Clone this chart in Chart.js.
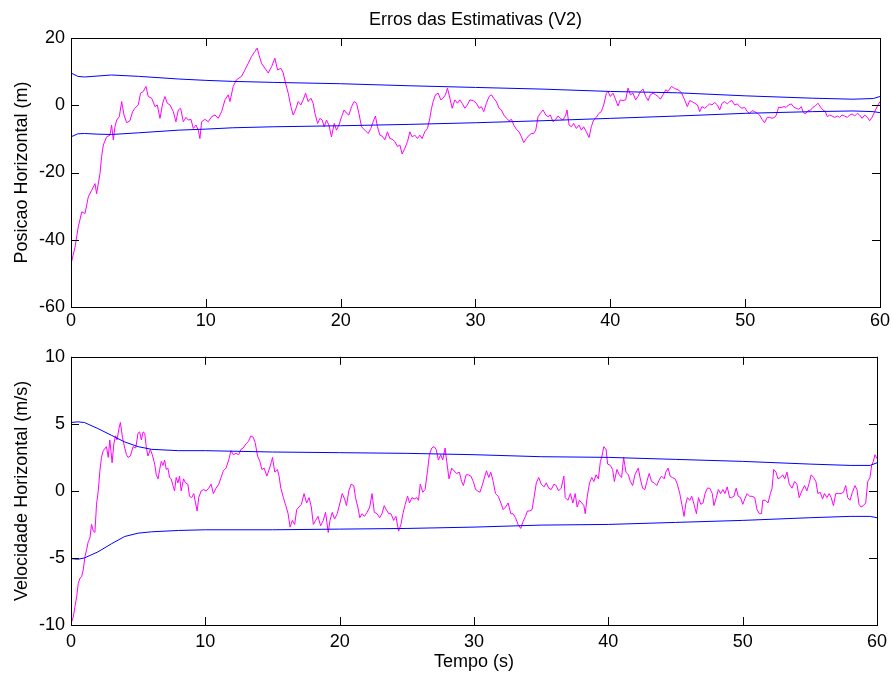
<!DOCTYPE html>
<html>
<head>
<meta charset="utf-8">
<title>Erros das Estimativas (V2)</title>
<script src="https://cdn.jsdelivr.net/npm/chart.js@4.4.1/dist/chart.umd.min.js"></script>
<style>
  body { margin: 0; background: #fff; }
  #wrap { position: relative; width: 893px; height: 680px; }
  canvas { position: absolute; left: 0; }
  #posCanvas { top: 0; }
  #velCanvas { top: 340px; }
</style>
</head>
<body>
<div id="wrap">
  <canvas id="posCanvas" width="893" height="340"></canvas>
  <canvas id="velCanvas" width="893" height="340"></canvas>
</div>
<script>
// time axis ticks (s)
const timeTicks = [0, 10, 20, 30, 40, 50, 60];

// position error (m)
const posTime = [0, 0.3, 0.54, 0.8, 1.04, 1.28, 1.53, 1.78, 1.9, 2.15, 2.27, 2.4, 2.64, 2.89, 3.01, 3.14, 3.26, 3.39, 3.58, 3.76, 3.93, 4.13, 4.37, 4.57, 4.74, 4.99, 5.16, 5.36, 5.56, 5.73, 5.98, 6.23, 6.4, 6.6, 6.8, 6.97, 7.14, 7.34, 7.59, 7.78, 7.96, 8.13, 8.33, 8.53, 8.7, 8.9, 9.07, 9.27, 9.44, 9.56, 9.69, 9.93, 10.18, 10.43, 10.68, 10.92, 11.17, 11.42, 11.66, 11.79, 12.03, 12.28, 12.65, 12.9, 13.15, 13.39, 13.64, 13.81, 13.94, 14.13, 14.38, 14.63, 14.88, 15.12, 15.32, 15.56, 15.74, 15.91, 16.11, 16.31, 16.48, 16.65, 16.85, 17.05, 17.22, 17.4, 17.59, 17.79, 17.96, 18.09, 18.29, 18.46, 18.63, 18.78, 18.95, 19.13, 19.32, 19.52, 19.69, 19.87, 20.07, 20.26, 20.44, 20.61, 20.81, 21.0, 21.18, 21.35, 21.55, 21.79, 22.04, 22.24, 22.41, 22.58, 22.73, 22.91, 23.08, 23.28, 23.47, 23.65, 23.82, 24.02, 24.22, 24.39, 24.56, 24.76, 24.96, 25.13, 25.3, 25.5, 25.7, 25.87, 26.04, 26.24, 26.44, 26.61, 26.74, 26.86, 27.03, 27.23, 27.43, 27.6, 27.77, 27.92, 28.1, 28.27, 28.47, 28.66, 28.84, 29.01, 29.21, 29.4, 29.58, 29.82, 30.07, 30.27, 30.44, 30.61, 30.81, 31.01, 31.18, 31.35, 31.55, 31.75, 31.92, 32.1, 32.3, 32.49, 32.67, 32.84, 33.04, 33.23, 33.41, 33.58, 33.78, 33.98, 34.15, 34.32, 34.47, 34.64, 34.81, 35.01, 35.21, 35.38, 35.55, 35.75, 35.95, 36.12, 36.29, 36.49, 36.69, 36.79, 36.94, 37.11, 37.28, 37.48, 37.68, 37.85, 38.02, 38.22, 38.42, 38.59, 38.76, 38.96, 39.16, 39.33, 39.51, 39.71, 39.83, 40.0, 40.2, 40.4, 40.57, 40.74, 40.94, 41.14, 41.31, 41.49, 41.68, 41.88, 42.05, 42.23, 42.43, 42.62, 42.8, 42.97, 43.17, 43.37, 43.54, 43.71, 43.91, 44.11, 44.28, 44.53, 44.77, 45.02, 45.27, 45.51, 45.71, 45.89, 46.06, 46.26, 46.46, 46.63, 46.8, 47.0, 47.2, 47.37, 47.54, 47.74, 47.94, 48.11, 48.29, 48.48, 48.68, 48.85, 49.02, 49.22, 49.42, 49.59, 49.76, 49.96, 50.16, 50.33, 50.51, 50.7, 50.9, 51.07, 51.25, 51.44, 51.64, 51.82, 51.99, 52.19, 52.31, 52.48, 52.68, 52.88, 53.05, 53.22, 53.42, 53.62, 53.79, 53.97, 54.16, 54.29, 54.46, 54.66, 54.86, 55.03, 55.2, 55.4, 55.6, 55.77, 55.95, 56.09, 56.27, 56.44, 56.64, 56.84, 57.01, 57.18, 57.38, 57.58, 57.75, 57.93, 58.12, 58.32, 58.49, 58.67, 58.87, 59.06, 59.24, 59.41, 59.61, 59.81, 60];
const posError = [-47.2, -42.2, -36.2, -31.7, -32.2, -27.3, -25.3, -23.3, -26.3, -20.3, -15.3, -11.8, -9.4, -8.9, -5.9, -10.3, -6.4, -4.4, -3.4, 1.1, -2.9, -5.2, -4.6, -1.9, -0.9, 0.1, 3.6, 4.1, 5.6, 2.6, 2.1, -0.4, 0.1, -3.9, 0.6, 2.6, 0.6, 0.1, -1.9, -4.9, -1.4, -0.9, -4.9, -3.6, -4.4, -4.2, -6.9, -5.9, -7.4, -9.9, -4.9, -4.2, -4.9, -3.4, -2.9, -3.9, -1.9, 1.6, 3.1, 1.1, 5.6, 7.6, 8.6, 10.5, 12.5, 14.5, 16.0, 17.0, 15.0, 12.5, 11.0, 9.6, 11.5, 14.0, 10.5, 11.0, 9.6, 6.6, 3.6, -0.4, -2.9, -1.4, 1.1, 0.1, 1.6, 3.6, 1.1, 2.1, 0.6, -2.4, -5.4, -3.9, -4.4, -6.4, -4.4, -5.9, -9.4, -5.4, -7.4, -5.9, -3.4, -1.4, -2.4, -2.9, -0.4, 1.1, 0.6, -2.4, -6.4, -7.4, -8.4, -6.9, -4.9, -3.2, -6.4, -8.9, -9.2, -10.3, -7.9, -9.9, -10.1, -10.8, -12.3, -11.8, -14.5, -12.8, -10.8, -7.9, -9.4, -8.9, -9.9, -8.9, -9.9, -7.9, -6.9, -3.9, -0.9, 1.1, 3.1, 3.6, 1.6, 2.1, 3.1, 5.1, 2.1, -0.9, 1.6, 0.6, 1.6, 0.6, -0.9, 0.1, 1.6, 1.4, 0.6, -0.9, -0.4, -1.9, 0.6, 2.6, 3.1, 2.1, 1.1, -0.9, -1.4, -2.9, -3.9, -4.6, -4.2, -5.9, -7.2, -7.9, -9.4, -11.1, -9.9, -8.9, -8.4, -8.4, -7.4, -3.4, -2.4, -1.4, -2.9, -3.4, -2.9, -4.9, -4.2, -3.2, -3.9, -4.4, -2.9, -1.4, -5.9, -6.4, -5.4, -6.9, -5.9, -7.4, -6.4, -7.9, -9.6, -6.4, -4.4, -3.6, -2.4, -1.9, 0.1, 3.6, 4.1, 2.6, 3.6, 1.6, -0.2, 1.6, 1.4, 1.6, 5.1, 3.1, 3.6, 1.6, 2.6, 4.1, 4.8, 2.6, 1.4, 3.1, 3.6, 3.1, 2.6, 1.8, 3.1, 4.6, 4.1, 5.6, 5.0, 4.6, 3.8, 1.6, -0.4, 1.4, 1.1, 0.6, 0.1, -1.9, -0.4, -0.9, -0.2, 0.4, 0.1, 0.8, 0.1, -1.4, 0.6, 1.1, 0.4, 1.1, 1.4, 0.1, 0.4, -0.4, -0.9, -0.6, -1.9, -2.4, -1.6, -1.9, -2.4, -2.9, -4.2, -5.2, -3.6, -3.6, -3.9, -3.6, -2.9, -0.6, -0.7, -0.4, -0.6, 0.1, 0.4, -0.6, -0.9, -1.2, -0.4, -1.9, -2.6, -1.6, -1.4, -0.6, -0.2, 0.6, -0.6, -1.4, -1.9, -3.4, -2.9, -3.2, -3.6, -3.2, -3.6, -2.9, -3.2, -3.6, -2.9, -2.6, -3.2, -2.4, -2.9, -3.9, -2.9, -3.6, -4.6, -3.6, -1.9, -0.2, 1.1];

// position error bounds (m)
const posBoundTime = [0, 0.5, 1, 2, 3, 5, 8, 10, 12, 15, 20, 25, 30, 35, 40, 45, 50, 55, 58, 59.5, 60];
const posUpper = [9.6, 8.6, 8.4, 8.7, 9.0, 8.6, 7.8, 7.4, 7.1, 6.8, 6.4, 5.8, 5.3, 4.8, 4.1, 3.7, 2.8, 2.1, 1.8, 2.0, 2.6];
const posLower = [-9.4, -8.5, -8.4, -8.6, -8.7, -8.2, -7.4, -7.1, -6.7, -6.4, -6.1, -5.7, -5.2, -4.6, -3.9, -3.2, -2.4, -1.9, -1.7, -1.9, -2.2];

// velocity error (m/s)
const velTime = [0, 0.17, 0.3, 0.42, 0.54, 0.67, 0.79, 0.91, 1.04, 1.16, 1.28, 1.41, 1.53, 1.66, 1.78, 1.9, 2.03, 2.15, 2.27, 2.4, 2.64, 2.77, 2.89, 3.06, 3.19, 3.31, 3.43, 3.58, 3.68, 3.83, 4.0, 4.13, 4.25, 4.42, 4.62, 4.82, 4.99, 5.11, 5.24, 5.36, 5.49, 5.61, 5.73, 5.91, 6.05, 6.23, 6.35, 6.48, 6.6, 6.72, 6.85, 6.97, 7.09, 7.21, 7.34, 7.46, 7.59, 7.71, 7.83, 7.96, 8.08, 8.2, 8.38, 8.52, 8.7, 8.82, 8.99, 9.14, 9.27, 9.39, 9.51, 9.69, 9.86, 10.06, 10.25, 10.43, 10.6, 10.8, 11.0, 11.17, 11.34, 11.54, 11.74, 11.91, 12.08, 12.28, 12.48, 12.65, 12.82, 13.02, 13.22, 13.39, 13.57, 13.71, 13.89, 14.06, 14.21, 14.38, 14.58, 14.75, 14.93, 15.0, 15.17, 15.37, 15.49, 15.62, 15.81, 15.99, 16.16, 16.31, 16.48, 16.65, 16.8, 16.97, 17.15, 17.35, 17.54, 17.72, 17.89, 18.04, 18.21, 18.39, 18.58, 18.78, 18.95, 19.15, 19.28, 19.45, 19.62, 19.82, 20.02, 20.19, 20.37, 20.51, 20.68, 20.85, 21.05, 21.18, 21.35, 21.5, 21.67, 21.84, 22.04, 22.24, 22.41, 22.58, 22.78, 22.98, 23.15, 23.32, 23.47, 23.65, 23.82, 24.02, 24.19, 24.39, 24.56, 24.71, 24.88, 25.06, 25.2, 25.38, 25.55, 25.75, 25.87, 26.0, 26.19, 26.36, 26.54, 26.68, 26.86, 27.03, 27.18, 27.35, 27.52, 27.67, 27.85, 27.97, 28.14, 28.34, 28.51, 28.71, 28.91, 29.08, 29.21, 29.41, 29.58, 29.77, 29.95, 30.12, 30.27, 30.44, 30.61, 30.81, 30.93, 31.1, 31.25, 31.43, 31.6, 31.8, 32.0, 32.17, 32.35, 32.54, 32.74, 32.91, 33.09, 33.28, 33.48, 33.65, 33.83, 33.98, 34.15, 34.32, 34.47, 34.64, 34.82, 35.01, 35.21, 35.38, 35.56, 35.75, 35.95, 36.12, 36.29, 36.49, 36.69, 36.79, 36.99, 37.18, 37.36, 37.53, 37.68, 37.85, 38.03, 38.18, 38.28, 38.42, 38.6, 38.77, 38.92, 39.09, 39.26, 39.41, 39.53, 39.66, 39.83, 39.95, 40.15, 40.32, 40.45, 40.64, 40.82, 40.99, 41.14, 41.31, 41.49, 41.64, 41.81, 41.98, 42.23, 42.38, 42.55, 42.72, 42.87, 43.04, 43.22, 43.41, 43.61, 43.78, 43.96, 44.16, 44.28, 44.45, 44.6, 44.77, 44.97, 45.14, 45.32, 45.47, 45.64, 45.76, 45.89, 46.06, 46.21, 46.38, 46.56, 46.71, 46.88, 47.05, 47.2, 47.37, 47.55, 47.74, 47.86, 48.04, 48.19, 48.36, 48.53, 48.68, 48.85, 49.03, 49.18, 49.35, 49.52, 49.67, 49.84, 50.01, 50.16, 50.33, 50.51, 50.7, 50.9, 51.07, 51.25, 51.4, 51.5, 51.69, 51.89, 52.06, 52.19, 52.31, 52.48, 52.63, 52.81, 52.98, 53.13, 53.3, 53.47, 53.67, 53.87, 54.04, 54.21, 54.41, 54.61, 54.78, 54.96, 55.1, 55.28, 55.45, 55.6, 55.77, 55.95, 56.09, 56.27, 56.44, 56.59, 56.76, 56.93, 57.13, 57.33, 57.5, 57.67, 57.82, 57.99, 58.17, 58.36, 58.51, 58.66, 58.81, 58.98, 59.16, 59.31, 59.48, 59.6, 59.73, 59.85, 60];
const velError = [-9.9, -9.4, -8.6, -7.9, -6.9, -6.5, -6.4, -5.9, -4.9, -4.4, -3.8, -3.5, -2.5, -3.0, -3.1, -1.0, 0.0, 1.5, 2.5, 3.0, 3.3, 2.5, 3.8, 2.1, 3.5, 4.1, 3.8, 4.7, 5.1, 4.0, 3.2, 2.7, 2.5, 2.6, 3.3, 3.2, 4.3, 4.4, 3.8, 4.4, 4.3, 3.2, 2.6, 3.1, 2.7, 2.0, 1.2, 0.9, 1.6, 2.2, 1.9, 2.3, 1.6, 1.7, 1.0, 0.9, 0.4, 0.0, 1.0, 0.6, 1.1, 0.0, 0.9, 0.6, 0.5, -0.4, -0.5, -0.2, -0.9, -1.5, -0.5, 0.0, 0.1, 0.0, 0.2, 0.5, -0.2, 0.2, 0.5, 1.0, 1.5, 1.7, 2.3, 3.0, 2.7, 2.8, 2.7, 3.1, 3.2, 3.5, 3.7, 4.1, 4.0, 3.6, 2.6, 2.2, 1.6, 1.7, 1.1, 1.6, 2.2, 2.5, 1.4, 1.6, 1.1, 0.2, -0.5, -1.1, -1.7, -2.7, -2.2, -2.5, -1.4, -1.2, -1.0, -0.2, -0.9, -0.5, -1.2, -2.5, -2.2, -1.9, -2.6, -2.2, -1.6, -3.1, -2.2, -1.6, -2.1, -1.7, -0.9, -0.2, -0.6, -1.1, 0.0, 0.5, 0.4, -0.5, -1.2, -2.0, -1.7, -1.9, -1.6, -1.2, -0.2, -1.6, -1.7, -2.0, -1.7, -1.1, -1.4, -1.7, -1.7, -2.2, -1.9, -3.0, -2.5, -1.7, -1.0, -0.4, -0.9, -0.5, -0.6, -0.5, -0.7, 0.5, -0.1, 0.1, 1.5, 2.7, 3.2, 3.3, 3.1, 2.3, 2.7, 2.3, 3.2, 2.2, 0.9, 1.7, 1.5, 1.3, 1.4, 0.7, 0.4, 1.2, 1.2, 1.1, 0.7, 0.1, 0.0, -0.1, 0.4, 1.1, 1.5, 1.0, 1.4, 0.7, -0.2, -0.4, -0.9, -1.4, -1.2, -0.9, -1.7, -1.7, -2.0, -2.5, -2.8, -2.3, -1.9, -1.5, -1.5, -1.4, -0.5, 0.6, 1.0, 0.5, 0.3, 0.6, 0.2, 0.1, 0.5, 0.4, 0.0, 0.2, 1.1, -0.5, -0.7, -0.2, -0.9, -0.2, -1.2, -0.7, -0.9, -1.1, -1.7, -0.5, 0.6, 1.0, 0.7, 1.2, 0.9, 2.2, 2.6, 3.3, 3.1, 2.0, 1.9, 1.6, 0.7, 1.6, 1.2, 1.0, 2.5, 1.4, 1.2, 0.7, 0.4, 1.2, 1.7, 0.9, 0.2, 0.1, 0.7, 1.3, 0.7, 0.6, 0.4, 0.8, 1.1, 0.9, 1.4, 1.7, 1.1, 1.0, 0.9, 0.5, -0.2, -1.0, -1.9, -1.0, -0.5, -0.7, -0.4, -1.0, -1.7, -0.5, -1.0, -0.9, -0.2, 0.2, 0.2, -0.2, -1.1, -0.5, 0.1, -0.2, 0.1, -0.2, 0.3, -0.5, -0.5, -0.4, 0.2, -0.4, -0.5, -1.0, -0.6, -0.2, -0.4, -0.4, -0.5, -1.4, -1.7, -1.7, -0.7, -0.7, -0.9, -0.2, 0.2, 1.6, 1.4, 0.9, 1.0, 1.2, 0.9, 1.4, 0.5, 0.2, 0.7, 0.5, -0.5, 0.0, 0.4, 0.0, 0.6, 1.2, 1.0, 0.7, -0.2, -0.1, -0.6, -0.2, -0.5, -0.2, -0.5, -1.1, -0.2, -0.2, -0.2, -0.1, 0.4, -0.5, -0.7, -0.1, 0.4, 0.1, -1.0, -1.2, -1.1, -0.9, 0.7, 1.0, 1.9, 2.2, 2.7, 2.4];

// velocity error bounds (m/s)
const velBoundTime = [0, 0.5, 1, 2, 3, 4, 5, 6, 8, 10, 15, 20, 25, 30, 35, 40, 45, 50, 55, 58, 59.5, 60];
const velUpper = [5.1, 5.15, 5.1, 4.65, 4.15, 3.65, 3.3, 3.1, 3.0, 3.0, 2.9, 2.85, 2.8, 2.7, 2.55, 2.5, 2.35, 2.2, 2.0, 1.9, 1.9, 2.1];
const velLower = [-5.05, -5.1, -5.0, -4.55, -3.95, -3.4, -3.15, -3.05, -2.95, -2.9, -2.9, -2.85, -2.8, -2.7, -2.55, -2.5, -2.35, -2.2, -2.0, -1.9, -1.9, -2.0];

const FONT = 'Liberation Sans, Arial, Helvetica, sans-serif';

// pair two arrays into {x, y} points
function toPoints(xs, ys) {
    return xs.map((x, i) => ({ x: x, y: ys[i] }));
}

// MATLAB style box with inward tick marks on all four sides
const boxPlugin = {
    id: 'boxPlugin',
    afterDatasetsDraw(chart) {
        const { ctx, chartArea: a, scales } = chart;
        const xs = scales.x, ys = scales.y;
        const len = 8;
        ctx.save();
        ctx.strokeStyle = '#000';
        ctx.lineWidth = 1;
        ctx.beginPath();
        xs.ticks.forEach(t => {
            const px = Math.round(xs.getPixelForValue(t.value)) + 0.5;
            ctx.moveTo(px, a.bottom); ctx.lineTo(px, a.bottom - len);
            ctx.moveTo(px, a.top); ctx.lineTo(px, a.top + len);
        });
        ys.ticks.forEach(t => {
            const py = Math.round(ys.getPixelForValue(t.value)) + 0.5;
            ctx.moveTo(a.left, py); ctx.lineTo(a.left + len, py);
            ctx.moveTo(a.right, py); ctx.lineTo(a.right - len, py);
        });
        ctx.stroke();
        ctx.strokeRect(Math.round(a.left) + 0.5, Math.round(a.top) + 0.5,
            Math.round(a.right - a.left), Math.round(a.bottom - a.top));
        ctx.restore();
    }
};

function lineSet(points, color) {
    return {
        data: points,
        borderColor: color,
        borderWidth: 1,
        pointRadius: 0,
        fill: false,
        tension: 0
    };
}

function makePanel(canvasId, opts) {
    const ctx = document.getElementById(canvasId).getContext('2d');
    return new Chart(ctx, {
        type: 'line',
        data: {
            datasets: [
                lineSet(toPoints(opts.boundTime, opts.upper), '#0000ff'),
                lineSet(toPoints(opts.boundTime, opts.lower), '#0000ff'),
                lineSet(toPoints(opts.time, opts.error), '#ff00ff')
            ]
        },
        options: {
            responsive: false,
            animation: false,
            events: [],
            layout: { padding: { top: opts.padTop, right: 13, left: 0, bottom: 0 } },
            plugins: {
                legend: { display: false },
                tooltip: { enabled: false },
                title: opts.title
                    ? { display: true, text: opts.title, color: '#000', fullSize: false,
                        font: { family: FONT, size: 18, weight: 'normal' },
                        padding: { top: 9, bottom: 7.4 } }
                    : { display: false }
            },
            scales: {
                x: {
                    type: 'linear',
                    min: 0,
                    max: 60,
                    afterBuildTicks: s => { s.ticks = timeTicks.map(v => ({ value: v })); },
                    ticks: { color: '#000', font: { family: FONT, size: 18 }, padding: opts.xPad, maxRotation: 0 },
                    grid: { display: false, drawTicks: false },
                    border: { display: false },
                    title: opts.xTitle
                        ? { display: true, text: opts.xTitle, color: '#000',
                            font: { family: FONT, size: 18 }, padding: { top: 0, bottom: 7 } }
                        : { display: false },
                    afterFit: s => { s.height = opts.xHeight; }
                },
                y: {
                    type: 'linear',
                    min: opts.yMin,
                    max: opts.yMax,
                    afterBuildTicks: s => { s.ticks = opts.yTicks.map(v => ({ value: v })); },
                    ticks: { color: '#000', font: { family: FONT, size: 18 }, padding: 6 },
                    grid: { display: false, drawTicks: false },
                    border: { display: false },
                    title: { display: true, text: opts.yTitle, color: '#000',
                             font: { family: FONT, size: 18 }, padding: { top: 11, bottom: 0 } },
                    afterFit: s => { s.width = 71; }
                }
            }
        },
        plugins: [boxPlugin]
    });
}

document.addEventListener('DOMContentLoaded', function() {
    makePanel('posCanvas', {
        title: 'Erros das Estimativas (V2)',
        padTop: 0,
        xPad: 3,
        xHeight: 33,
        yMin: -60, yMax: 20,
        yTicks: [-60, -40, -20, 0, 20],
        yTitle: 'Posicao Horizontal (m)',
        time: posTime, error: posError,
        boundTime: posBoundTime, upper: posUpper, lower: posLower
    });
    makePanel('velCanvas', {
        title: null,
        padTop: 15,
        xPad: 6,
        xHeight: 55,
        xTitle: 'Tempo (s)',
        yMin: -10, yMax: 10,
        yTicks: [-10, -5, 0, 5, 10],
        yTitle: 'Velocidade Horizontal (m/s)',
        time: velTime, error: velError,
        boundTime: velBoundTime, upper: velUpper, lower: velLower
    });
});
</script>
</body>
</html>
